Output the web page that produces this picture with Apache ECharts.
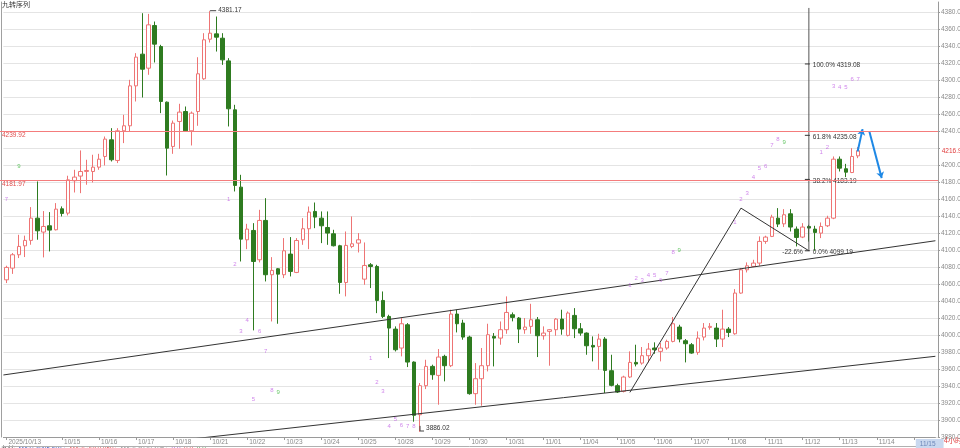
<!DOCTYPE html>
<html><head><meta charset="utf-8">
<script src="https://cdn.jsdelivr.net/npm/echarts@6.0.0/dist/echarts.min.js"></script>
<style>html,body{margin:0;padding:0;background:#fff}#c{width:960px;height:448px}</style>
</head><body><div id="c"></div>
<script>
// ---- categories (4-hour bars, labelled by trading day) ----
const days = ['2025/10/13','10/14','10/15','10/16','10/17','10/18','10/21','10/22','10/23','10/24','10/25','10/28','10/29','10/30','10/31','11/01','11/04','11/05','11/06','11/07','11/08','11/11','11/12','11/13','11/14','11/15'];
const barsPerDay = [3,6,6,6,6,6,6,6,6,6,6,6,6,6,6,6,6,6,6,6,6,6,6,6,6,4];
const hiddenDayLabels = ['10/14'];
const highlightDay = '11/15';

// ---- OHLC ----
const openV = [4065.0,4078.8,4094.5,4105.0,4111.4,4137.6,4121.2,4128.6,4123.9,4148.6,4143.5,4181.6,4187.1,4192.6,4192.5,4197.6,4210.2,4229.8,4205.5,4240.4,4246.3,4293.3,4330.6,4314.1,4364.3,4339.6,4274.1,4222.0,4251.4,4263.1,4240.4,4263.1,4301.6,4348.2,4354.5,4349.4,4322.7,4265.1,4174.1,4112.1,4123.1,4088.6,4134.9,4071.0,4078.0,4071.0,4095.3,4073.7,4112.1,4125.1,4145.5,4137.6,4126.6,4119.2,4105.1,4061.9,4104.3,4108.2,4065.8,4082.7,4080.7,4040.7,4021.9,4007.0,3984.7,4012.1,3968.2,3906.2,3940.4,3963.1,3952.5,3974.9,3963.9,4024.7,4014.1,3997.6,3931.0,3948.6,3963.9,3998.4,3996.4,4006.3,4023.9,4020.0,4006.3,4010.2,4018.0,3999.2,4004.3,4006.3,4018.8,3999.6,4023.1,4007.4,4002.3,3987.8,3986.6,3995.3,3958.0,3940.4,3933.7,3950.6,3967.8,3967.0,3975.7,3984.7,3980.8,3984.7,3992.5,4009.4,3993.3,3988.6,3979.6,3997.6,4009.0,4008.2,3995.3,4007.0,4001.5,4049.4,4076.8,4080.8,4084.7,4110.2,4116.1,4137.6,4130.9,4142.7,4124.7,4115.3,4127.8,4124.7,4120.0,4128.6,4137.6,4207.0,4195.7,4191.3,4210.9];
const closeV = [4079.6,4094.5,4104.3,4111.4,4137.6,4122.7,4127.8,4123.5,4148.2,4143.1,4182.7,4185.9,4192.5,4193.7,4197.6,4207.0,4230.6,4206.3,4240.4,4246.3,4293.3,4327.1,4312.9,4365.1,4342.4,4274.9,4220.0,4249.4,4262.4,4240.4,4261.2,4307.5,4347.5,4355.3,4350.6,4323.9,4266.3,4176.1,4112.9,4124.7,4086.6,4134.9,4071.0,4076.1,4071.7,4099.2,4074.9,4111.3,4125.1,4144.7,4138.8,4128.6,4120.0,4105.1,4061.9,4105.5,4107.4,4112.1,4081.9,4080.7,4040.7,4021.9,4008.2,3982.7,4013.3,3968.2,3905.5,3940.4,3963.1,3953.3,3974.1,3963.9,4024.7,4013.3,3997.6,3931.0,3948.6,3963.9,4000.4,3996.4,4006.3,4026.6,4020.8,4007.0,4009.4,4018.0,3999.2,4002.3,4006.3,4018.8,4007.0,4025.9,4007.4,4002.3,3987.4,3985.9,3995.3,3958.4,3940.8,3932.9,3950.6,3967.8,3965.9,3975.7,3983.5,3982.7,3984.7,3992.5,4013.3,3995.3,3989.8,3978.8,3996.4,4008.2,4010.2,3995.3,4007.0,4003.1,4049.4,4076.8,4081.5,4084.7,4110.2,4115.3,4138.8,4130.6,4141.6,4127.1,4114.9,4127.1,4125.9,4120.8,4127.8,4137.6,4207.0,4196.4,4191.7,4210.2,4216.96];
const lowV = [4061.2,4072.0,4090.6,4091.8,4106.3,4112.2,4091.4,4098.4,4123.1,4139.6,4140.8,4167.8,4167.0,4176.9,4179.6,4194.5,4199.6,4204.3,4202.4,4225.9,4240.0,4274.9,4279.6,4306.3,4320.8,4261.2,4187.8,4213.3,4219.2,4239.6,4223.1,4246.3,4300.4,4344.3,4333.7,4318.0,4245.5,4169.0,4086.6,4101.1,4005.5,4085.5,4063.1,4016.0,4013.3,4067.0,4069.0,4072.9,4106.2,4101.1,4125.8,4108.2,4106.2,4104.3,4048.6,4045.5,4102.3,4097.2,4059.2,4055.3,4025.8,4020.0,3972.9,3980.7,3974.9,3962.3,3898.0,3886.02,3936.4,3947.4,3918.0,3945.5,3962.3,4003.1,3994.5,3929.8,3918.0,3916.8,3957.2,3963.1,3988.6,4001.5,4016.1,3990.6,4001.5,4001.5,3974.1,3994.5,3963.9,3999.2,4000.4,3998.4,3996.4,3999.2,3976.8,3969.0,3959.2,3931.8,3939.6,3931.8,3932.5,3949.4,3963.1,3965.1,3967.8,3978.0,3969.0,3982.7,3991.4,3991.4,3967.8,3978.0,3976.8,3993.7,4006.3,3985.9,3985.9,3997.6,4000.4,4048.6,4073.7,4080.0,4081.5,4107.4,4115.3,4127.1,4127.1,4121.9,4104.3,4114.1,4110.0,4099.19,4114.1,4127.1,4136.4,4192.5,4185.9,4190.6,4208.2];
const highV = [4081.6,4096.5,4118.0,4117.0,4150.6,4180.8,4145.9,4144.7,4155.3,4151.4,4187.5,4194.5,4217.3,4206.3,4212.2,4213.3,4233.7,4243.5,4243.5,4259.2,4300.4,4331.8,4378.8,4378.0,4369.0,4341.6,4274.9,4252.5,4272.2,4269.0,4263.1,4327.0,4355.3,4381.17,4374.9,4355.3,4325.9,4271.0,4188.6,4130.9,4131.7,4147.4,4161.1,4091.7,4078.8,4114.1,4115.3,4114.1,4137.6,4151.3,4156.0,4145.5,4145.5,4123.9,4106.2,4121.9,4139.6,4120.0,4109.0,4084.7,4082.7,4051.3,4023.9,4010.2,4020.0,4014.1,3969.0,3943.5,3970.9,3965.1,3983.5,3976.8,4029.8,4029.8,4018.0,3999.2,3967.0,3984.7,4013.3,4002.3,4016.0,4045.5,4026.6,4021.2,4020.0,4036.8,4021.2,4010.2,4007.0,4020.0,4029.8,4027.8,4031.7,4014.1,4003.1,3998.4,4001.5,3997.6,3976.8,3942.7,3952.1,3980.8,3988.6,3985.9,3990.6,3991.4,3990.6,3994.5,4021.2,4012.1,3995.3,3990.6,4004.3,4014.1,4014.1,4014.1,4029.8,4009.4,4054.1,4078.8,4085.5,4088.6,4116.1,4116.9,4141.6,4149.4,4148.2,4148.2,4127.8,4131.7,4129.8,4128.6,4132.5,4140.4,4210.2,4210.2,4201.5,4220.0,4221.2];

// ---- y axis ticks ----
const yMin = 3880, yMax = 4392, yStep = 20;
const yTickValues = [3880,3900,3920,3940,3960,3980,4000,4020,4040,4060,4080,4100,4120,4140,4160,4180,4200,4220,4240,4260,4280,4300,4320,4340,4360,4380];
const lastPrice = 4216.96;
const redLevels = [4239.92, 4181.97];

// ---- drawn studies (bar index, price) ----
const upperChannel = [[-0.5, 3953.0], [150.5, 4111.0]];
const lowerChannel = [[0, 3853.4], [150.5, 3975.0]];
const zigzag = [[101.0, 3932.5], [119.0, 4149.4], [130.0, 4099.19]];
const fibAnchor = 130.0;
const fibTop = 4385;
const fibLevels = [4319.08, 4235.08, 4183.19, 4099.19];
const fibPct = ['100.0%', '61.8%', '38.2%', '0.0%'];
const fibExtraLabel = '-22.6%';
const arrowUp = [[137.9, 4216.0], [138.7, 4242.4]];
const arrowDown = [[139.8, 4239.5], [141.8, 4184.7]];
const extremeIndex = [33, 67];
const extremeValue = [4381.17, 3886.02];

// ---- TD sequential counts ----
const tdIndex = [0,2,36,37,38,39,40,41,42,43,44,59,60,61,62,63,64,65,66,101,102,103,104,105,106,107,108,109,118,119,120,121,122,123,124,125,126,132,133,134,135,136,137,138];
const tdValue = [4160.2,4198.0,4159.2,4082.7,4003.9,4016.8,3923.9,4003.9,3980.4,3934.5,3932.1,3972.1,3943.9,3933.3,3892.1,3900.4,3893.3,3892.1,3892.1,4058.0,4066.2,4063.9,4069.8,4069.8,4063.9,4072.1,4096.8,4099.2,4132.1,4159.2,4166.2,4186.2,4196.8,4198.0,4222.7,4230.9,4227.4,4214.5,4221.5,4293.3,4292.1,4292.1,4301.5,4300.4];
const tdText = ['7','9','1','2','3','4','5','6','7','8','9','1','2','3','4','5','6','7','8','1','2','3','4','5','6','7','8','9','1','2','3','4','5','6','7','8','9','1','2','3','4','5','6','7'];

// ---- build ----
const categories = [];
const dayStart = new Set();
days.forEach((d, k) => {
  for (let j = 0; j < barsPerDay[k]; j++) {
    if (j === 0) dayStart.add(categories.length);
    categories.push(d + '#' + j);
  }
});
const N = categories.length;
const candles = openV.map((o, i) => [o, closeV[i], lowV[i], highV[i]]);
const showDay = (i) => dayStart.has(i) && hiddenDayLabels.indexOf(categories[i].split('#')[0]) < 0;
const FONT = 'Liberation Sans, Noto Sans CJK SC, sans-serif';

const chart = echarts.init(document.getElementById('c'), null, {renderer: 'canvas'});
chart.setOption({
  animation: false,
  backgroundColor: '#fff',
  textStyle: {fontFamily: FONT},
  grid: {left: 3.4, right: 24.6, top: 2, bottom: 11, containLabel: false, outerBoundsMode: 'none'},
  xAxis: [
    {type: 'category', data: categories, boundaryGap: true,
     axisLine: {onZero: false, lineStyle: {color: '#9a9a9a'}},
     axisTick: {show: true, interval: (i) => showDay(i), length: 3, alignWithLabel: true, lineStyle: {color: '#9a9a9a'}},
     axisLabel: {interval: (i) => showDay(i), align: 'left', margin: 2, padding: [0, 0, 0, 2], fontSize: 6.5, color: '#8a8a8a', fontFamily: FONT,
       formatter: (v) => { const d = v.split('#')[0]; return d === highlightDay ? '{hl|' + d + '}' : d; },
       rich: {hl: {backgroundColor: '#c9d8ef', color: '#6b86b8', fontSize: 6.5, padding: [2, 8, 2, 4], fontFamily: FONT}}},
     splitLine: {show: false}},
    {type: 'value', min: -0.5, max: N - 0.5, show: false, axisLine: {onZero: false}},
    {type: 'category', data: categories, position: 'bottom', offset: 9,
     axisLine: {onZero: false, lineStyle: {color: '#b0b0b0'}}, axisTick: {show: false}, axisLabel: {show: false}}
  ],
  yAxis: [
    {type: 'value', position: 'right', min: yMin, max: yMax, interval: yStep, offset: 2.6,
     axisLine: {show: true, onZero: false, lineStyle: {color: '#9a9a9a'}},
     axisTick: {show: true, length: 2, lineStyle: {color: '#9a9a9a'}},
     axisLabel: {fontSize: 6.5, color: '#8a8a8a', margin: 3, showMaxLabel: false, fontFamily: FONT,
       formatter: (v) => (Math.abs(v - 4220) < 0.01 || v > 4385) ? '' : v.toFixed(2)},
     splitLine: {show: false}},
    {type: 'value', position: 'left', min: yMin, max: yMax, offset: 2.4,
     axisLine: {show: true, onZero: false, lineStyle: {color: '#a0a0a0'}}, axisTick: {show: false}, axisLabel: {show: false}, splitLine: {show: false}}
  ],
  series: [
    // horizontal grid lines at the tick values
    {type: 'custom', xAxisIndex: 1, yAxisIndex: 0, silent: true, clip: false, z: 0,
     data: yTickValues.filter(v => Math.abs(v - 4240) > 0.01).map(v => [-0.5, v]),
     renderItem: (params, api) => {
       const p = api.coord([api.value(0), api.value(1)]);
       const q = api.coord([N - 0.5, api.value(1)]);
       const y = Math.round(p[1]) + 0.5;
       return {type: 'line', shape: {x1: p[0], y1: y, x2: q[0] + 2.6, y2: y}, style: {stroke: '#e4e4e4', lineWidth: 1}};
     }},
    {type: 'candlestick', xAxisIndex: 0, yAxisIndex: 0, data: candles, barWidth: 4, z: 3,
     itemStyle: {color: '#ffffff', color0: '#2e7b20', borderColor: '#ee7474', borderColor0: '#2e7b20', borderWidth: 1}},
    // red horizontal levels with left labels, last price label on the axis
    {type: 'custom', xAxisIndex: 1, yAxisIndex: 0, silent: true, clip: false, zlevel: 1, z: 1,
     data: redLevels.map(v => [-0.5, v, 0]).concat([[N - 0.5, lastPrice, 1]]),
     renderItem: (params, api) => {
       const p = api.coord([api.value(0), api.value(1)]);
       const q = api.coord([N - 0.5, api.value(1)]);
       const y = Math.round(p[1]) + 0.5;
       if (api.value(2) === 1) {
         return {type: 'text', style: {text: lastPrice.toFixed(2), x: q[0] + 6.3, y: p[1], verticalAlign: 'middle', fontSize: 6.5, fontFamily: FONT, fill: '#e03c3c'}};
       }
       return {type: 'group', children: [
         {type: 'rect', shape: {x: 0, y: y - 0.5, width: q[0] + 2.6, height: 1}, style: {fill: '#f47c7c'}},
         {type: 'text', style: {text: redLevels[params.dataIndex].toFixed(2), x: 2, y: y + 0.5, verticalAlign: 'top', fontSize: 6.5, fontFamily: FONT, fill: '#e05050'}}
       ]};
     }},
    {type: 'line', xAxisIndex: 1, yAxisIndex: 0, data: upperChannel, symbol: 'none', silent: true, clip: true, z: 4,
     lineStyle: {color: '#333', width: 1}},
    {type: 'line', xAxisIndex: 1, yAxisIndex: 0, data: lowerChannel, symbol: 'none', silent: true, clip: true, z: 4,
     lineStyle: {color: '#333', width: 1}},
    {type: 'line', xAxisIndex: 1, yAxisIndex: 0, data: zigzag, symbol: 'none', silent: true, clip: true, z: 4,
     lineStyle: {color: '#333', width: 1}},
    {type: 'line', xAxisIndex: 1, yAxisIndex: 0, data: [[fibAnchor, fibLevels[3]], [fibAnchor, fibTop]], symbol: 'none', silent: true, z: 4,
     lineStyle: {color: '#555', width: 1}},
    {type: 'line', xAxisIndex: 1, yAxisIndex: 0, data: [], silent: true, z: 5,
     markLine: {silent: true, symbol: ['none', 'arrow'], symbolSize: 6, animation: false, label: {show: false},
       lineStyle: {color: '#1e88e5', width: 2, type: 'solid'},
       data: [[{coord: arrowUp[0]}, {coord: arrowUp[1]}], [{coord: arrowDown[0]}, {coord: arrowDown[1]}]]}},
    {type: 'custom', xAxisIndex: 1, yAxisIndex: 0, silent: true, clip: false, z: 5,
     data: fibLevels.map(v => [fibAnchor, v]),
     renderItem: (params, api) => {
       const p = api.coord([api.value(0), api.value(1)]);
       const i = params.dataIndex;
       const ch = [
         {type: 'line', shape: {x1: p[0] - 4, y1: p[1], x2: p[0] + 1, y2: p[1]}, style: {stroke: '#333', lineWidth: 1}},
         {type: 'text', style: {text: fibPct[i] + ' ' + fibLevels[i].toFixed(2), x: p[0] + 4, y: p[1] + 1.5, verticalAlign: 'middle', fontSize: 6.5, fontFamily: FONT, fill: '#333'}}
       ];
       if (i === fibLevels.length - 1) ch.push({type: 'text', style: {text: fibExtraLabel, x: p[0] - 6, y: p[1] + 1.5, align: 'right', verticalAlign: 'middle', fontSize: 6.5, fontFamily: FONT, fill: '#333'}});
       return {type: 'group', children: ch};
     }},
    {type: 'custom', xAxisIndex: 1, yAxisIndex: 0, silent: true, clip: false, z: 5,
     data: extremeIndex.map((x, i) => [x, extremeValue[i]]),
     renderItem: (params, api) => {
       const p = api.coord([api.value(0), api.value(1)]);
       const up = params.dataIndex === 0;
       const yy = up ? p[1] - 0.5 : Math.min(p[1], 431);
       return {type: 'group', children: [
         {type: 'polyline', shape: {points: up ? [[p[0], p[1]], [p[0], yy], [p[0] + 6, yy]] : [[p[0], p[1] - 6], [p[0], yy], [p[0] + 4, yy]]}, style: {stroke: '#444', lineWidth: 1, fill: null}},
         {type: 'text', style: {text: extremeValue[params.dataIndex].toFixed(2), x: p[0] + (up ? 8 : 6), y: up ? yy : yy - 3, verticalAlign: 'middle', fontSize: 6.5, fontFamily: FONT, fill: '#333'}}
       ]};
     }},
    {type: 'scatter', xAxisIndex: 1, yAxisIndex: 0, silent: true, symbolSize: 0, z: 5,
     data: tdIndex.map((x, i) => ({value: [x, tdValue[i], tdText[i]],
       label: {color: tdText[i] === '9' ? '#3fb83f' : '#c466e6'}})),
     label: {show: true, position: 'inside', formatter: (p) => p.value[2], fontSize: 6, fontFamily: FONT}}
  ],
  graphic: [
    {type: 'text', left: 2, top: 1, style: {text: '九转序列', fontSize: 7, fontFamily: 'Noto Sans CJK SC', fill: '#333'}},
    {type: 'text', left: 944, top: 437, style: {text: '4小时', fontSize: 7, fontFamily: 'Noto Sans CJK SC', fill: '#e03c3c'}},
    {type: 'text', left: 1, top: 446, style: {text: '{a|九转}  {b|MA1: 4095.691↓}  {c|MA2: 3919.959↓}  {d|MA3: 4070.105↓}  {e|0.0}  {f|0.0}  {g|0.0}',
      rich: {a: {fill: '#333', fontSize: 6.5}, b: {fill: '#3355bb', fontSize: 6.5}, c: {fill: '#e05050', fontSize: 6.5}, d: {fill: '#888', fontSize: 6.5}, e: {fill: '#a050d0', fontSize: 6.5}, f: {fill: '#d05050', fontSize: 6.5}, g: {fill: '#50a050', fontSize: 6.5}}, fontSize: 6.5, fontFamily: FONT}}
  ]
});
</script>
</body></html>
